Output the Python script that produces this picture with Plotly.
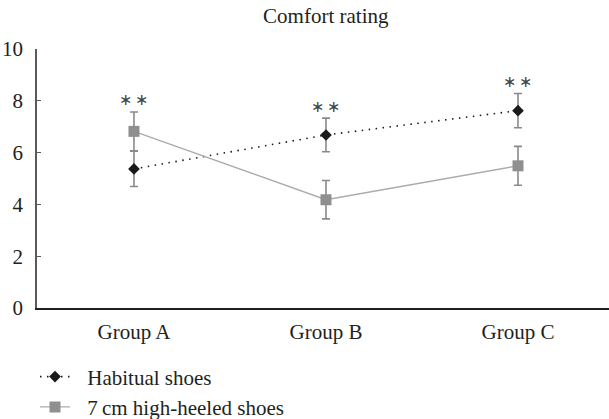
import plotly.graph_objects as go

groups = ["Group A", "Group B", "Group C"]
habitual = [5.37, 6.68, 7.62]
habitual_err = [0.68, 0.65, 0.66]
heeled = [6.82, 4.18, 5.49]
heeled_err = [0.75, 0.74, 0.75]
sig_marks = ["∗\u2009∗", "∗\u2009∗", "∗\u2009∗"]
y_ticks = [0, 2, 4, 6, 8, 10]
series_names = ["Habitual shoes", "7\u2009cm high-heeled shoes"]

FONT = "Liberation Serif"
TXT = "#231f20"
PAD = "\u2002\u200a"  # gap between legend symbol and its label

fig = go.Figure()
fig.add_trace(go.Scatter(
    x=groups, y=habitual, name=PAD + series_names[0], mode="lines+markers",
    line=dict(color="#1a1a1a", width=1.6, dash="1.5px,5.5px"),
    marker=dict(symbol="diamond", size=9, color="#1a1a1a"),
    error_y=dict(type="data", array=habitual_err, color="#8a8a8a", thickness=1.6, width=4),
))
fig.add_trace(go.Scatter(
    x=groups, y=heeled, name=PAD + series_names[1], mode="lines+markers",
    line=dict(color="#ababab", width=1.4),
    marker=dict(symbol="square", size=11, color="#8f8f8f"),
    error_y=dict(type="data", array=heeled_err, color="#8a8a8a", thickness=1.6, width=4),
))

for g, h, he, k, ke, s in zip(groups, habitual, habitual_err, heeled, heeled_err, sig_marks):
    top = max(h + he, k + ke)
    fig.add_annotation(x=g, y=top, text=s, showarrow=False, yanchor="middle",
                       yshift=12, font=dict(family=FONT, size=16, color="#444"))

fig.update_layout(
    width=609, height=419,
    margin=dict(l=37, r=0, t=49, b=111, autoexpand=False),
    paper_bgcolor="white", plot_bgcolor="white",
    font=dict(family=FONT, size=21, color=TXT),
    title=dict(text="Comfort rating", x=0.535, xanchor="center", y=0.962, yanchor="middle",
               font=dict(family=FONT, size=21, color=TXT)),
    showlegend=True,
    legend=dict(orientation="v", x=-0.0035, xanchor="left", y=-0.187, yanchor="top",
                font=dict(family=FONT, size=21, color=TXT), tracegroupgap=0,
                itemwidth=30, bgcolor="rgba(0,0,0,0)"),
)
fig.update_xaxes(range=[-0.505, 2.474], showgrid=False, zeroline=False,
                 showline=True, linecolor="#231f20", linewidth=1.5, ticks="",
                 ticklabelstandoff=4, tickfont=dict(family=FONT, size=21, color=TXT))
fig.update_yaxes(range=[0, 10], tickvals=y_ticks, showgrid=False, zeroline=False,
                 showline=True, linecolor="#5a5a5a", linewidth=1.5,
                 ticks="inside", ticklen=4, tickcolor="#5a5a5a", tickwidth=1.2,
                 ticklabelstandoff=8, tickfont=dict(family=FONT, size=21, color=TXT))

fig.write_html("out.html", config={"displayModeBar": False},
               post_script="document.body.style.margin='0px';document.body.style.overflow='hidden';")
